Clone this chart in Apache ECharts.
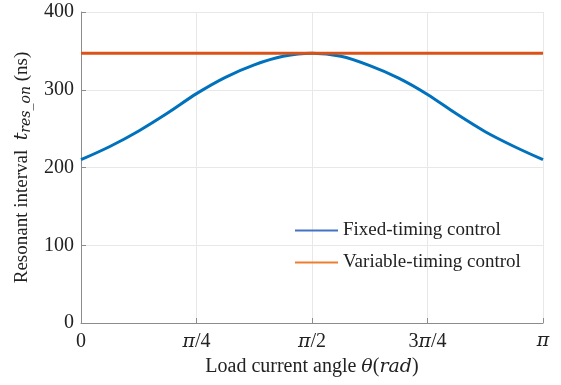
<!DOCTYPE html>
<html>
<head>
<meta charset="utf-8">
<script src="https://cdn.jsdelivr.net/npm/echarts@6/dist/echarts.min.js"></script>
<style>
html,body{margin:0;padding:0;background:#fff;}
#c{width:561px;height:385px;}
</style>
</head>
<body>
<div id="c"></div>
<script>
// x positions in units of π
const thetaOverPi = [0, 0.0625, 0.125, 0.1875, 0.25, 0.3125, 0.375, 0.4375, 0.5, 0.5625, 0.625, 0.6875, 0.75, 0.8125, 0.875, 0.9375, 1];
// Fixed-timing control (ns)
const fixedTiming = [210, 227, 247, 270, 295, 316, 332, 343, 347, 343, 331, 315, 294, 269, 246, 227, 210];
// Variable-timing control (ns)
const varTheta = [0, 1];
const variableTiming = [347, 347];
const xTickValues = [0, 0.25, 0.5, 0.75, 1];
const xTickLabels = ['0', 'π/4', 'π/2', '3π/4', 'π'];
const seriesNames = ['Fixed-timing control', 'Variable-timing control'];

const serif = '"Liberation Serif", "Times New Roman", serif';
const mathFont = '"DejaVu Serif", serif';

const chart = echarts.init(document.getElementById('c'), null, {renderer: 'canvas'});
chart.setOption({
  animation: false,
  backgroundColor: '#fff',
  grid: {left: 81, right: 18, top: 12, bottom: 62, containLabel: false, outerBoundsMode: 'none'},
  legend: {
    orient: 'vertical',
    left: 290, top: 216,
    itemWidth: 43, itemHeight: 14, itemGap: 13,
    textStyle: {fontFamily: serif, fontSize: 19, color: '#222'},
    data: [
      {name: seriesNames[0], icon: 'path://M0,6 L43,6 L43,8 L0,8 Z', itemStyle: {color: '#4472C4'}},
      {name: seriesNames[1], icon: 'path://M0,6 L43,6 L43,8 L0,8 Z', itemStyle: {color: '#ED7D31'}}
    ]
  },
  xAxis: {
    type: 'value', min: 0, max: 1, interval: 0.25,
    axisLine: {show: true, onZero: false, lineStyle: {color: '#8c8c8c', width: 1}},
    axisTick: {show: true, inside: true, length: 5, lineStyle: {color: '#8c8c8c'}},
    splitLine: {show: true, lineStyle: {color: '#e8e8e8', width: 1}},
    axisLabel: {
      margin: 9, color: '#222', fontFamily: serif, fontSize: 20,
      formatter: function (v) {
        const i = xTickValues.findIndex(t => Math.abs(t - v) < 1e-9);
        if (i < 0) return '';
        return xTickLabels[i].replace('π', '{i|π}');
      },
      rich: {i: {fontFamily: mathFont, fontStyle: 'italic', fontSize: 19, color: '#222'}}
    },
    name: '{a|Load current angle }{m|θ}{a|(}{m|rad}{a|)}',
    nameLocation: 'middle', nameGap: 34,
    nameTextStyle: {
      rich: {
        a: {fontFamily: serif, fontSize: 20, color: '#222'},
        m: {fontFamily: mathFont, fontStyle: 'italic', fontSize: 19, color: '#222'}
      }
    }
  },
  yAxis: {
    type: 'value', min: 0, max: 400, interval: 100,
    axisLine: {show: true, lineStyle: {color: '#8c8c8c', width: 1}},
    axisTick: {show: true, inside: true, length: 5, lineStyle: {color: '#8c8c8c'}},
    splitLine: {show: true, lineStyle: {color: '#e8e8e8', width: 1}},
    axisLabel: {margin: 7, color: '#222', fontFamily: serif, fontSize: 20},
    name: '{a|Resonant interval  }{t|t}{s|res_on}{a| (ns)}',
    nameLocation: 'middle', nameGap: 46, nameRotate: 90,
    nameTextStyle: {
      rich: {
        a: {fontFamily: serif, fontSize: 19, color: '#222'},
        t: {fontFamily: mathFont, fontStyle: 'italic', fontSize: 19, color: '#222'},
        s: {fontFamily: mathFont, fontStyle: 'italic', fontSize: 14, color: '#222', verticalAlign: 'bottom', padding: [9, 0, 0, 0]}
      }
    }
  },
  series: [
    {
      name: seriesNames[0], type: 'line', smooth: 0.3, symbol: 'none',
      data: thetaOverPi.map((x, i) => [x, fixedTiming[i]]),
      lineStyle: {color: '#0072BD', width: 3}, itemStyle: {color: '#0072BD'}
    },
    {
      name: seriesNames[1], type: 'line', symbol: 'none',
      data: varTheta.map((x, i) => [x, variableTiming[i]]),
      lineStyle: {color: '#D95319', width: 3}, itemStyle: {color: '#D95319'}
    }
  ]
});
</script>
</body>
</html>
